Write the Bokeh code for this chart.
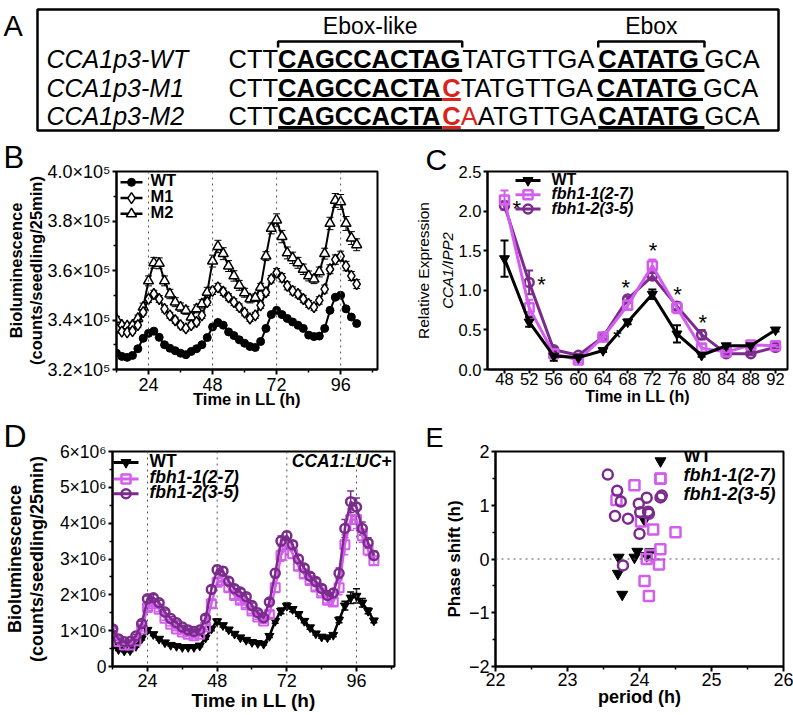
from bokeh.plotting import figure
from bokeh.layouts import column, row
from bokeh.models import (Range1d, FixedTicker, Label, Span, ColumnDataSource, LinearAxis,
                          NumeralTickFormatter)
from bokeh.core.properties import value, field
from bokeh.embed import file_html
from bokeh.resources import INLINE

FONT = "Liberation Sans"
MAG = "#D35EEE"
PUR = "#7A2B8C"
RED = "#D8261C"

# ---------------- Panel A data ----------------
SEQ_NAMES = ["CCA1p3-WT", "CCA1p3-M1", "CCA1p3-M2"]
SEQ_WT = [("CTT", "normal", "black", None), ("CAGCCACTAG", "bold", "black", "black"),
          ("TATGTTGA", "normal", "black", None), ("CATATG", "bold", "black", "black"),
          ("GCA", "normal", "black", None)]
SEQ_M1 = [("CTT", "normal", "black", None), ("CAGCCACTA", "bold", "black", "black"),
          ("C", "bold", RED, RED), ("TATGTTGA", "normal", "black", None),
          ("CATATG", "bold", "black", "black"), ("GCA", "normal", "black", None)]
SEQ_M2 = [("CTT", "normal", "black", None), ("CAGCCACTA", "bold", "black", "black"),
          ("C", "bold", RED, RED), ("A", "normal", RED, None), ("ATGTTGA", "normal", "black", None),
          ("CATATG", "bold", "black", "black"), ("GCA", "normal", "black", None)]
MOTIF_LABELS = ["Ebox-like", "Ebox"]

# ---------------- Panel B data (x1e5) ----------------
B_T = [12, 14, 16, 18, 20, 22, 24, 26, 28, 30, 32, 34, 36, 38, 40, 42, 44, 46, 48, 50,
       52, 54, 56, 58, 60, 62, 64, 66, 68, 70, 72, 74, 76, 78, 80, 82, 84, 86, 88, 90,
       92, 94, 96, 98, 100, 102]
B_WT = [3.266, 3.253, 3.249, 3.257, 3.284, 3.326, 3.346, 3.355, 3.33, 3.30,
        3.286, 3.276, 3.266, 3.26, 3.273, 3.284, 3.30, 3.329, 3.372, 3.39,
        3.379, 3.352, 3.337, 3.32, 3.306, 3.293, 3.289, 3.313, 3.366, 3.422,
        3.439, 3.422, 3.406, 3.392, 3.379, 3.366, 3.339, 3.333, 3.335, 3.366,
        3.439, 3.492, 3.50, 3.445, 3.412, 3.386]
B_M1 = [3.366, 3.353, 3.35, 3.355, 3.379, 3.432, 3.485, 3.505, 3.485, 3.445,
        3.419, 3.399, 3.379, 3.366, 3.379, 3.392, 3.419, 3.472, 3.518, 3.532,
        3.514, 3.492, 3.472, 3.452, 3.43, 3.406, 3.419, 3.459, 3.512, 3.565,
        3.591, 3.571, 3.538, 3.518, 3.505, 3.485, 3.465, 3.452, 3.479, 3.525,
        3.605, 3.644, 3.658, 3.618, 3.578, 3.545]
B_M2 = [3.403, 3.379, 3.376, 3.379, 3.406, 3.452, 3.558, 3.631, 3.629, 3.558,
        3.505, 3.472, 3.452, 3.439, 3.412, 3.445, 3.465, 3.512, 3.638, 3.697,
        3.668, 3.618, 3.578, 3.54, 3.51, 3.485, 3.49, 3.532, 3.658, 3.77,
        3.804, 3.737, 3.671, 3.651, 3.631, 3.605, 3.578, 3.565, 3.594, 3.668,
        3.79, 3.883, 3.877, 3.79, 3.731, 3.704]
B_M1_ERR = [0.010, 0.008, 0.008, 0.009, 0.010, 0.012, 0.014, 0.015, 0.014, 0.013,
            0.012, 0.012, 0.011, 0.011, 0.011, 0.012, 0.013, 0.014, 0.015, 0.016,
            0.015, 0.014, 0.014, 0.013, 0.013, 0.012, 0.012, 0.012, 0.013, 0.015,
            0.017, 0.017, 0.016, 0.016, 0.015, 0.015, 0.014, 0.014, 0.015, 0.016,
            0.018, 0.019, 0.020, 0.019, 0.018, 0.018]
B_M2_ERR = [0.012, 0.010, 0.010, 0.012, 0.014, 0.016, 0.020, 0.022, 0.022, 0.020,
            0.019, 0.018, 0.017, 0.016, 0.015, 0.016, 0.017, 0.020, 0.024, 0.025,
            0.024, 0.022, 0.021, 0.020, 0.018, 0.016, 0.015, 0.016, 0.018, 0.022,
            0.025, 0.025, 0.024, 0.023, 0.022, 0.021, 0.020, 0.018, 0.020, 0.022,
            0.025, 0.028, 0.030, 0.028, 0.026, 0.024]
B_YTICKS = [320000, 340000, 360000, 380000, 400000]
B_YLABELS = ["3.2\u00d710\u2075", "3.4\u00d710\u2075", "3.6\u00d710\u2075", "3.8\u00d710\u2075", "4.0\u00d710\u2075"]
B_NAMES = ["WT", "M1", "M2"]
DAY_LINES = [24, 48, 72, 96]

# ---------------- Panel C data ----------------
C_T = [48, 52, 56, 60, 64, 68, 72, 76, 80, 84, 88, 92]
C_WT = [1.40, 0.60, 0.17, 0.15, 0.24, 0.60, 0.95, 0.45, 0.18, 0.30, 0.30, 0.50]
C_WT_ERR = [0.23, 0.06, 0.06, 0.02, 0.02, 0.03, 0.06, 0.11, 0.02, 0.02, 0.02, 0.02]
C_F1 = [2.14, 0.78, 0.20, 0.12, 0.41, 0.81, 1.31, 0.78, 0.27, 0.22, 0.31, 0.30]
C_F1_ERR = [0.12, 0.10, 0.05, 0.03, 0.03, 0.05, 0.08, 0.07, 0.05, 0.02, 0.02, 0.02]
C_F2 = [2.07, 1.10, 0.25, 0.18, 0.41, 0.89, 1.18, 0.80, 0.44, 0.20, 0.20, 0.28]
C_F2_ERR = [0.05, 0.15, 0.03, 0.02, 0.02, 0.03, 0.04, 0.04, 0.06, 0.02, 0.02, 0.02]
STAR_X = [50.0, 54.0, 67.7, 72.1, 76.1, 80.2, 66.3]
STAR_Y = [2.10, 1.14, 1.10, 1.56, 1.01, 0.66, 0.47]
C_YTICKS = [0, 0.5, 1.0, 1.5, 2.0, 2.5]
LINE_NAMES = ["WT", "fbh1-1(2-7)", "fbh1-2(3-5)"]

# ---------------- Panel D data (x1e6) ----------------
D_T = B_T
D_WT = [0.57, 0.48, 0.44, 0.45, 0.57, 0.78, 1.02, 0.90, 0.77, 0.67,
        0.60, 0.57, 0.54, 0.54, 0.54, 0.58, 0.80, 1.05, 1.26, 1.15,
        1.03, 0.91, 0.81, 0.74, 0.68, 0.65, 0.63, 0.85, 1.27, 1.55,
        1.69, 1.60, 1.46, 1.27, 1.09, 0.92, 0.83, 0.81, 0.88, 1.30,
        1.70, 1.92, 1.97, 1.78, 1.55, 1.28]
D_F1 = [0.95, 0.70, 0.60, 0.60, 0.72, 1.05, 1.65, 1.75, 1.60, 1.35,
        1.18, 1.05, 0.96, 0.90, 0.86, 0.90, 1.10, 1.75, 2.35, 2.40,
        2.20, 1.98, 1.85, 1.72, 1.55, 1.38, 1.27, 1.45, 2.20, 3.10,
        3.40, 3.15, 2.80, 2.58, 2.40, 2.22, 2.05, 1.85, 1.80, 2.20,
        3.40, 4.10, 4.10, 3.65, 3.25, 2.95]
D_F2 = [1.05, 0.77, 0.69, 0.70, 0.85, 1.20, 1.89, 1.92, 1.78, 1.52,
        1.34, 1.22, 1.10, 1.02, 0.98, 1.02, 1.35, 2.15, 2.70, 2.66,
        2.38, 2.17, 2.08, 1.95, 1.70, 1.50, 1.36, 1.80, 2.60, 3.50,
        3.65, 3.40, 3.00, 2.75, 2.52, 2.37, 2.18, 1.98, 2.05, 2.60,
        3.85, 4.60, 4.45, 3.85, 3.45, 3.10]
D_WT_ERR = [0.03, 0.03, 0.03, 0.03, 0.03, 0.04, 0.05, 0.04, 0.03, 0.03,
            0.03, 0.03, 0.03, 0.03, 0.03, 0.03, 0.04, 0.05, 0.06, 0.05,
            0.04, 0.04, 0.03, 0.03, 0.03, 0.03, 0.03, 0.04, 0.06, 0.08,
            0.08, 0.07, 0.06, 0.05, 0.05, 0.04, 0.04, 0.04, 0.05, 0.08,
            0.12, 0.16, 0.20, 0.12, 0.08, 0.06]
D_F1_ERR = [0.05, 0.05, 0.05, 0.05, 0.05, 0.06, 0.08, 0.08, 0.07, 0.06,
            0.05, 0.05, 0.05, 0.05, 0.05, 0.05, 0.07, 0.10, 0.12, 0.12,
            0.10, 0.09, 0.08, 0.07, 0.07, 0.06, 0.06, 0.08, 0.12, 0.16,
            0.14, 0.12, 0.11, 0.10, 0.09, 0.09, 0.08, 0.08, 0.10, 0.20,
            0.28, 0.30, 0.25, 0.18, 0.15, 0.12]
D_F2_ERR = [0.05, 0.04, 0.04, 0.04, 0.05, 0.06, 0.08, 0.08, 0.07, 0.06,
            0.05, 0.05, 0.05, 0.05, 0.05, 0.05, 0.07, 0.10, 0.12, 0.11,
            0.10, 0.09, 0.08, 0.07, 0.07, 0.06, 0.06, 0.08, 0.12, 0.14,
            0.12, 0.11, 0.10, 0.09, 0.08, 0.08, 0.08, 0.08, 0.10, 0.15,
            0.25, 0.30, 0.25, 0.18, 0.14, 0.12]
D_YTICKS = [0, 1000000, 2000000, 3000000, 4000000, 5000000, 6000000]
D_YLABELS = ["0", "1\u00d710\u2076", "2\u00d710\u2076", "3\u00d710\u2076", "4\u00d710\u2076", "5\u00d710\u2076", "6\u00d710\u2076"]

# ---------------- Panel E data ----------------
E_WT_X = [23.71, 23.70, 23.76, 23.93, 23.97, 24.10, 24.15, 24.07]
E_WT_Y = [0.03, -0.27, -0.66, 0.03, 0.14, 0.06, 0.13, 0.72]
E_F1_X = [23.93, 24.29, 23.68, 24.02, 24.19, 24.50, 24.29, 24.10, 24.27, 24.15, 24.07, 24.13]
E_F1_Y = [1.37, 1.50, 1.10, 0.70, 0.55, 0.50, 0.18, 0.00, -0.10, 0.07, -0.41, -0.69]
E_F2_X = [23.56, 23.69, 23.74, 23.66, 23.84, 23.99, 24.10, 24.31, 24.01, 24.12, 24.13, 24.00, 23.77]
E_F2_Y = [1.57, 1.27, 1.07, 0.80, 0.75, 1.03, 1.14, 1.18, 0.87, 0.88, 0.84, 0.47, -0.12]


# ---------------- helpers ----------------
class G:
    def __init__(self, w, h, fl, fr, ft, fb, xr, yr):
        self.w, self.h, self.fl, self.fr, self.ft, self.fb = w, h, fl, fr, ft, fb
        self.xr, self.yr = xr, yr

    def x(self, lx):
        return self.xr[0] + (lx - self.fl) / (self.fr - self.fl) * (self.xr[1] - self.xr[0])

    def y(self, ly):
        return self.yr[1] - (ly - self.ft) / (self.fb - self.ft) * (self.yr[1] - self.yr[0])


def base_fig(g, letter, lsize, lstand, xticks, xminor, yticks, yminor, xsize, ysize,
             xtick_out, xstand, ystand, ylabels=None):
    p = figure(width=g.w, height=g.h, x_range=Range1d(*g.xr), y_range=Range1d(*g.yr),
               output_backend="svg", toolbar_location=None, tools="", title=letter)
    p.min_border_left = g.fl
    p.min_border_right = g.w - g.fr
    p.min_border_top = g.ft
    p.min_border_bottom = g.h - g.fb
    p.title.align = "left"
    p.title.offset = -(g.fl - 3) if g.fl > 100 else -(g.fl - 25)
    p.title.text_font = FONT
    p.title.text_font_size = f"{lsize}px"
    p.title.text_font_style = "normal"
    p.title.text_color = "black"
    p.title.standoff = lstand
    p.xgrid.visible = False
    p.ygrid.visible = False
    p.outline_line_color = "black"
    p.outline_line_width = 2
    p.outline_line_alpha = 1
    p.background_fill_color = "white"
    p.border_fill_color = "white"
    p.xaxis.ticker = FixedTicker(ticks=xticks, minor_ticks=xminor)
    p.yaxis.ticker = FixedTicker(ticks=yticks, minor_ticks=yminor)
    if ylabels is not None:
        p.yaxis.major_label_overrides = dict(zip(yticks, ylabels))
    for ax, sz in ((p.xaxis[0], xsize), (p.yaxis[0], ysize)):
        ax.axis_line_width = 2
        ax.axis_line_color = "black"
        ax.major_tick_line_width = 2
        ax.minor_tick_line_width = 1.5
        ax.major_tick_in = 0
        ax.minor_tick_in = 0
        ax.major_label_text_font = FONT
        ax.major_label_text_font_size = f"{sz}px"
        ax.major_label_text_color = "black"
        ax.axis_label_text_font = FONT
        ax.axis_label_text_color = "black"
    p.xaxis.major_tick_out = xtick_out
    p.xaxis.minor_tick_out = 3
    p.xaxis.major_label_standoff = xstand
    p.yaxis.major_tick_out = 4
    p.yaxis.minor_tick_out = 3
    p.yaxis.major_label_standoff = ystand
    return p


def set_label(ax, text, size, style, standoff):
    ax.axis_label = text
    ax.axis_label_text_font_size = f"{size}px"
    ax.axis_label_text_font_style = style
    ax.axis_label_standoff = standoff


def outer_label(p, text, size, style, standoff):
    ax = LinearAxis(ticker=FixedTicker(ticks=[]))
    ax.axis_line_color = None
    ax.major_tick_line_color = None
    ax.minor_tick_line_color = None
    ax.major_tick_out = 0
    ax.major_tick_in = 0
    ax.minor_tick_out = 0
    ax.minor_tick_in = 0
    ax.major_label_standoff = 0
    ax.axis_label_text_font = FONT
    ax.axis_label_text_color = "black"
    set_label(ax, text, size, style, standoff)
    p.add_layout(ax, "left")


def lab(p, g, lx, ly, text, size, style="normal", align="left"):
    p.add_layout(Label(x=lx - g.fl, y=g.fb - ly, x_units="screen", y_units="screen", text=text,
                       text_font=FONT, text_font_size=f"{size}px", text_font_style=style,
                       text_align=align, text_baseline="middle", text_color="black"))


def ebars(p, xs, ys, es, color, cap, lw=1.2):
    lo = [a - b for a, b in zip(ys, es)]
    hi = [a + b for a, b in zip(ys, es)]
    p.segment(x0=xs, y0=lo, x1=xs, y1=hi, line_color=color, line_width=lw)
    p.scatter(x=xs, y=hi, marker="dash", size=cap, line_color=color, line_width=lw)
    p.scatter(x=xs, y=lo, marker="dash", size=cap, line_color=color, line_width=lw)


def leg_item(p, g, ly, lx0, lx1, color, lw, marker, msize, fill, mlw):
    if lx0 is not None:
        p.line(x=[g.x(lx0), g.x(lx1)], y=[g.y(ly), g.y(ly)], line_color=color, line_width=lw)
        mx = (lx0 + lx1) / 2
    else:
        mx = lx1
    p.scatter(x=[g.x(mx)], y=[g.y(ly)], marker=marker, size=msize, fill_color=fill,
              line_color=color, line_width=mlw)


# ---------------- Panel A ----------------
W_REG = {"A": 0.667, "C": 0.722, "G": 0.778, "T": 0.611}
W_BOLD = {"A": 0.722, "C": 0.722, "G": 0.778, "T": 0.611}
FA = 25.5
pa = figure(width=793, height=140, x_range=Range1d(0, 793), y_range=Range1d(140, 0),
            x_axis_type=None, y_axis_type=None, output_backend="svg",
            toolbar_location=None, tools="")
pa.min_border_left = 0
pa.min_border_right = 0
pa.min_border_top = 0
pa.min_border_bottom = 0
pa.outline_line_color = None

pa.quad(left=[37], right=[778], top=[9], bottom=[130], fill_color=None,
        line_color="black", line_width=2.5)

rows_y = [58, 87, 115]
X0 = 228
tx, ty, tt, ts, tc = [], [], [], [], []
ux0, ux1, uy, uc = [], [], [], []
extents = []
for seq, yy in zip([SEQ_WT, SEQ_M1, SEQ_M2], rows_y):
    x = X0
    ext = []
    for s, st, c, u in seq:
        w = sum((W_BOLD if st == "bold" else W_REG)[ch] for ch in s) * FA
        tx.append(x); ty.append(yy); tt.append(s); ts.append(st); tc.append(c)
        if u:
            ux0.append(x); ux1.append(x + w); uy.append(yy + 0.47 * FA); uc.append(u)
        ext.append((x, x + w))
        x += w
    extents.append(ext)

src_a = ColumnDataSource(dict(x=tx, y=ty, text=tt, style=ts, color=tc))
pa.text(x="x", y="y", text="text", source=src_a, text_font=value(FONT),
        text_font_size=value(f"{FA}px"), text_font_style=field("style"),
        text_color=field("color"), text_align="left", text_baseline="middle")
pa.segment(x0=ux0, y0=uy, x1=ux1, y1=uy, line_color=uc, line_width=3)

pa.text(x=[46, 46, 46], y=rows_y, text=SEQ_NAMES, text_font=value(FONT),
        text_font_size=value("25px"), text_font_style="italic",
        text_align="left", text_baseline="middle", text_color="black")

b1 = extents[0][1]
b2 = extents[0][3]
pa.multi_line(xs=[[b1[0], b1[0], b1[1], b1[1]], [b2[0], b2[0], b2[1], b2[1]]],
              ys=[[47, 41, 41, 47], [47, 41, 41, 47]], line_color="black", line_width=2.5)
pa.text(x=[(b1[0] + b1[1]) / 2, (b2[0] + b2[1]) / 2], y=[25, 25], text=MOTIF_LABELS,
        text_font=value(FONT), text_font_size=value("23px"), text_align="center",
        text_baseline="middle", text_color="black")
pa.text(x=[3], y=[25], text=["A"], text_font=value(FONT), text_font_size=value("29px"),
        text_align="left", text_baseline="middle", text_color="black")

# ---------------- Panel B ----------------
gb = G(400, 278, 116, 377, 29, 230, (12, 109.8), (320000, 400000))
pb = base_fig(gb, "B", 31, -6, DAY_LINES, [12, 36, 60, 84, 108], B_YTICKS,
              [330000, 350000, 370000, 390000], 18, 18, 5, 3, 2, B_YLABELS)
set_label(pb.yaxis[0], "(counts/seedling/25min)", 16.5, "bold", -1)
outer_label(pb, "Bioluminescence", 16.5, "bold", 0)
set_label(pb.xaxis[0], "Time in LL (h)", 16.5, "bold", -4)
for d in DAY_LINES:
    pb.add_layout(Span(location=d, dimension="height", line_color="#555555",
                       line_dash="dotted", line_width=1))
bwt = [v * 1e5 for v in B_WT]
bm1 = [v * 1e5 for v in B_M1]
bm2 = [v * 1e5 for v in B_M2]
ebars(pb, B_T, bm2, [e * 1e5 for e in B_M2_ERR], "black", 7, 1)
ebars(pb, B_T, bm1, [e * 1e5 for e in B_M1_ERR], "black", 7, 1)
pb.line(B_T, bm2, line_color="black", line_width=2)
pb.scatter(B_T, bm2, marker="triangle", size=10, fill_color="white", line_color="black", line_width=1.5)
pb.line(B_T, bm1, line_color="black", line_width=2)
pb.scatter(B_T, bm1, marker="diamond", size=11, fill_color="white", line_color="black", line_width=1.5)
pb.line(B_T, bwt, line_color="black", line_width=2)
pb.scatter(B_T, bwt, marker="circle", size=8, fill_color="black", line_color="black")

leg_item(pb, gb, 40, 120, 142, "black", 2.5, "circle", 8, "black", 1)
leg_item(pb, gb, 56, 120, 142, "black", 2.5, "diamond", 11, "white", 1.5)
leg_item(pb, gb, 72, 120, 142, "black", 2.5, "triangle", 10, "white", 1.5)
for nm, ly in zip(B_NAMES, [40, 56, 72]):
    lab(pb, gb, 150, ly, nm, 16.5, "bold")

# ---------------- Panel C ----------------
gc = G(393, 278, 87, 387, 30, 229, (45.24, 93.95), (0, 2.5))
pc = base_fig(gc, "C", 30, -8, C_T, [], C_YTICKS, [], 16.5, 16.5, 4, -1, 2)
pc.yaxis[0].formatter = NumeralTickFormatter(format="0.0")
set_label(pc.yaxis[0], "CCA1/IPP2", 15, "italic", 0)
outer_label(pc, "Relative Expression", 15.5, "normal", 4)
set_label(pc.xaxis[0], "Time in LL (h)", 16, "bold", 0)
ebars(pc, C_T, C_F2, C_F2_ERR, PUR, 8, 2)
ebars(pc, C_T, C_F1, C_F1_ERR, MAG, 8, 2)
ebars(pc, C_T, C_WT, C_WT_ERR, "black", 8, 2)
pc.line(C_T, C_F2, line_color=PUR, line_width=3)
pc.scatter(C_T, C_F2, marker="circle", size=9, fill_color=None, line_color=PUR, line_width=2.5)
pc.line(C_T, C_F1, line_color=MAG, line_width=3)
pc.scatter(C_T, C_F1, marker="square", size=9, fill_color=None, line_color=MAG, line_width=2.5)
pc.line(C_T, C_WT, line_color="black", line_width=3)
pc.scatter(C_T, C_WT, marker="inverted_triangle", size=10, fill_color="black", line_color="black")
pc.text(x=STAR_X, y=STAR_Y, text=["*"] * len(STAR_X), text_font=value(FONT),
        text_font_size=value("22px"), text_align="center", text_baseline="middle",
        text_color="black", y_offset=5)

leg_item(pc, gc, 39, 115, 140, "black", 3, "inverted_triangle", 10, "black", 1)
leg_item(pc, gc, 53.3, 115, 140, MAG, 3, "square", 9, None, 2.5)
leg_item(pc, gc, 67.7, 115, 140, PUR, 3, "circle", 9, None, 2.5)
lab(pc, gc, 151, 39, LINE_NAMES[0], 16, "bold")
lab(pc, gc, 151, 53.3, LINE_NAMES[1], 16, "bold italic")
lab(pc, gc, 151, 67.7, LINE_NAMES[2], 16, "bold italic")

# ---------------- Panel D ----------------
gd = G(400, 297, 112, 394, 31, 248, (11.94, 109.1), (0, 6000000))
pd_ = base_fig(gd, "D", 32, -5, DAY_LINES, [12, 36, 60, 84, 108], D_YTICKS,
               [500000, 1500000, 2500000, 3500000, 4500000, 5500000], 18, 17.5, 5, 2, 2, D_YLABELS)
set_label(pd_.yaxis[0], "(counts/seedling/25min)", 18, "bold", 10)
outer_label(pd_, "Bioluminescence", 18, "bold", -1)
set_label(pd_.xaxis[0], "Time in LL (h)", 19, "bold", 0)
for d in DAY_LINES:
    pd_.add_layout(Span(location=d, dimension="height", line_color="#555555",
                        line_dash="dotted", line_width=1))
dwt = [v * 1e6 for v in D_WT]
df1 = [v * 1e6 for v in D_F1]
df2 = [v * 1e6 for v in D_F2]
ebars(pd_, D_T, dwt, [e * 1e6 for e in D_WT_ERR], "black", 7, 1.5)
ebars(pd_, D_T, df1, [e * 1e6 for e in D_F1_ERR], MAG, 7, 1.5)
ebars(pd_, D_T, df2, [e * 1e6 for e in D_F2_ERR], PUR, 7, 1.5)
pd_.line(D_T, dwt, line_color="black", line_width=2.5)
pd_.scatter(D_T, dwt, marker="inverted_triangle", size=9, fill_color="black", line_color="black")
pd_.line(D_T, df1, line_color=MAG, line_width=2.5)
pd_.scatter(D_T, df1, marker="square", size=9, fill_color=None, line_color=MAG, line_width=2)
pd_.line(D_T, df2, line_color=PUR, line_width=2.5)
pd_.scatter(D_T, df2, marker="circle", size=9, fill_color=None, line_color=PUR, line_width=2.5)

leg_item(pd_, gd, 42, 113, 138, "black", 3, "inverted_triangle", 10, "black", 1)
leg_item(pd_, gd, 58.7, 113, 138, MAG, 3, "square", 9, None, 2.5)
leg_item(pd_, gd, 73.7, 113, 138, PUR, 3, "circle", 9, None, 2.5)
lab(pd_, gd, 149, 42, LINE_NAMES[0], 17.5, "bold")
lab(pd_, gd, 149, 58.7, LINE_NAMES[1], 17.5, "bold italic")
lab(pd_, gd, 149, 73.7, LINE_NAMES[2], 17.5, "bold italic")
lab(pd_, gd, 391, 42, "CCA1:LUC+", 17.5, "bold italic", "right")

# ---------------- Panel E ----------------
ge = G(393, 297, 95, 383, 29, 249, (22, 26), (-2, 2))
pe = base_fig(ge, "E", 27, -2, [22, 23, 24, 25, 26], [22.5, 23.5, 24.5, 25.5], [-2, -1, 0, 1, 2],
              [-1.5, -0.5, 0.5, 1.5], 18, 18, 5, 1, 2)
set_label(pe.yaxis[0], "Phase shift (h)", 17, "bold", 2)
set_label(pe.xaxis[0], "period (h)", 18, "bold", -2)
pe.add_layout(Span(location=0, dimension="width", line_color="#555555",
                   line_dash="dotted", line_width=1))
pe.scatter(E_WT_X, E_WT_Y, marker="inverted_triangle", size=11, fill_color="black", line_color="black")
pe.scatter(E_F1_X, E_F1_Y, marker="square", size=10, fill_color=None, line_color=MAG, line_width=2.5)
pe.scatter(E_F2_X, E_F2_Y, marker="circle", size=10, fill_color=None, line_color=PUR, line_width=2.5)

leg_item(pe, ge, 38.7, None, 260, "black", 0, "inverted_triangle", 11, "black", 1)
leg_item(pe, ge, 57, None, 260, MAG, 0, "square", 10, None, 2.5)
leg_item(pe, ge, 76, None, 260, PUR, 0, "circle", 10, None, 2.5)
lab(pe, ge, 283, 38.7, LINE_NAMES[0], 18, "bold")
lab(pe, ge, 283, 57, LINE_NAMES[1], 18, "bold italic")
lab(pe, ge, 283, 76, LINE_NAMES[2], 18, "bold italic")

layout = column(pa, row(pb, pc), row(pd_, pe))
open("out.html", "w").write(file_html(layout, INLINE))
